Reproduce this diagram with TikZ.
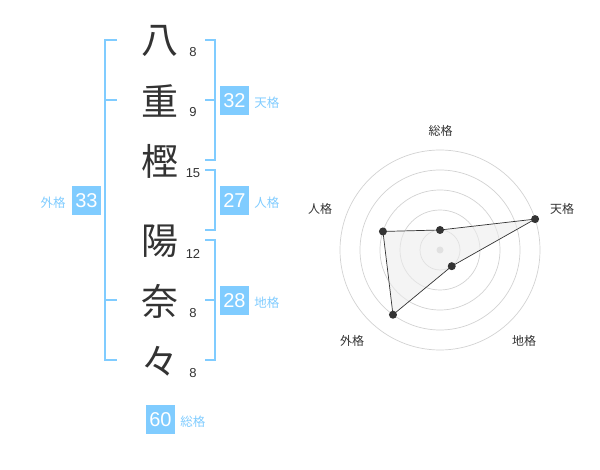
\documentclass[tikz,border=0pt]{standalone}
\usepackage{fontspec}
\setmainfont{Liberation Sans}
\newfontfamily\jpfont{Noto Sans CJK JP}
\usetikzlibrary{calc}

\definecolor{kakublue}{RGB}{128,204,255}
\definecolor{inkgray}{RGB}{51,51,51}
\definecolor{ringgray}{RGB}{210,210,210}

\begin{document}
\begin{tikzpicture}[x=1pt, y=-1pt,
    kanji/.style={font=\jpfont\fontsize{37}{37}\selectfont, text=inkgray, inner sep=0pt},
    strokes/.style={font=\fontsize{13}{13}\selectfont, text=inkgray, inner sep=0pt},
    bracket/.style={kakublue, line width=2pt},
    scorebox/.style={fill=kakublue, text=white, minimum size=29pt, inner sep=0pt, font=\fontsize{20}{20}\selectfont},
    kakulabel/.style={text=kakublue, font=\jpfont\fontsize{12.5}{12.5}\selectfont, inner sep=0pt},
    axislabel/.style={text=inkgray, font=\jpfont\fontsize{12}{12}\selectfont, inner sep=0pt},
    dot/.style={circle, fill=inkgray, inner sep=0pt, minimum size=8pt}]

    % Velicina slike
    \useasboundingbox (0,0) rectangle (600,470);

    % Znakovi imena i broj poteza
    \node[kanji] (c1) at (160,41) {八};
    \node[kanji] (c2) at (160,101) {重};
    \node[kanji] (c3) at (160,161) {樫};
    \node[kanji] (c4) at (160,241) {陽};
    \node[kanji] (c5) at (160,301) {奈};
    \node[kanji] (c6) at (160,361) {々};
    \foreach \y/\n [count=\i] in {52.5/8, 112.5/9, 173.5/15, 253.5/12, 313.5/8, 373.5/8} {
        \node[strokes] (s\i) at (193,\y) {\n};
    }

    % Zagrade
    \draw[bracket] (117,40) -- (105,40) -- (105,360) -- (117,360);
    \draw[bracket] (105,100) -- (117,100);
    \draw[bracket] (105,300) -- (117,300);
    \draw[bracket] (205,40) -- (215,40) -- (215,160) -- (205,160);
    \draw[bracket] (215,100) -- (205,100);
    \draw[bracket] (205,170) -- (215,170) -- (215,230) -- (205,230);
    \draw[bracket] (205,240) -- (215,240) -- (215,360) -- (205,360);
    \draw[bracket] (215,300) -- (205,300);

    % Rezultati
    \node[scorebox] (ten) at (234.5,100.5) {32};
    \node[kakulabel, anchor=west] (tenl) at ($(ten.east)+(5,2.5)$) {天格};
    \node[scorebox] (jin) at (234.5,200.5) {27};
    \node[kakulabel, anchor=west] (jinl) at ($(jin.east)+(5,2.5)$) {人格};
    \node[scorebox] (chi) at (234.5,300.5) {28};
    \node[kakulabel, anchor=west] (chil) at ($(chi.east)+(5,2.5)$) {地格};
    \node[scorebox] (gai) at (86.5,200.5) {33};
    \node[kakulabel, anchor=east] (gail) at ($(gai.west)+(-6,2.5)$) {外格};
    \node[scorebox] (sou) at (160.5,419.5) {60};
    \node[kakulabel, anchor=west] (soul) at ($(sou.east)+(5,2.5)$) {総格};

    % Radarski dijagram
    \begin{scope}[shift={(440,250)}, yscale=-1]
        \foreach \r in {20,40,...,100} {
            \draw[ringgray, line width=0.7pt] (0,0) circle (\r);
        }
        \fill[ringgray] (0,0) circle (3.5);

        \coordinate (psou) at (90:20);
        \coordinate (pten) at (18:100);
        \coordinate (pchi) at (-54:20);
        \coordinate (pgai) at (-126:80);
        \coordinate (pjin) at (162:60);

        \draw[fill=gray!15, fill opacity=0.6, draw=inkgray, line width=0.7pt]
            (psou) -- (pten) -- (pchi) -- (pgai) -- (pjin) -- cycle;
        \foreach \p in {psou, pten, pchi, pgai, pjin} {
            \node[dot] at (\p) {};
        }

        \node[axislabel] (asou) at (0.7,119) {総格};
        \node[axislabel] (aten) at (122,41) {天格};
        \node[axislabel] (achi) at (84,-91) {地格};
        \node[axislabel] (agai) at (-88,-91) {外格};
        \node[axislabel] (ajin) at (-120,41) {人格};
    \end{scope}

\end{tikzpicture}
\end{document}
